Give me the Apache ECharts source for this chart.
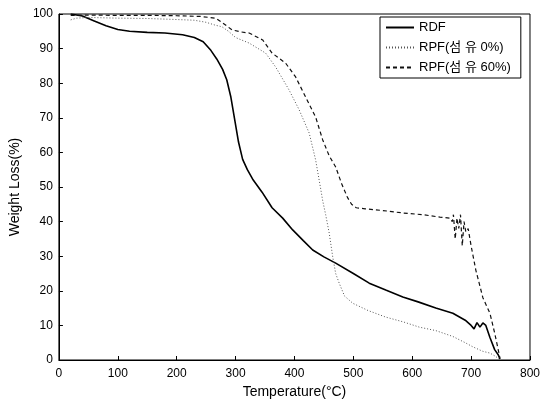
<!DOCTYPE html>
<html>
<head>
<meta charset="utf-8">
<script src="https://cdn.jsdelivr.net/npm/echarts@6/dist/echarts.min.js"></script>
<style>
  html, body { margin: 0; padding: 0; background: #fff; }
  #chart-box { width: 543px; height: 409px; }
</style>
</head>
<body>
<div id="chart-box"></div>
<script>
// 온도 (°C) / 무게 (%)
const rdfTemp = [20, 40, 60, 80, 100, 120, 150, 180, 210, 230, 245, 258, 268, 278, 285, 292, 298, 305, 312, 320, 330, 345, 362, 380, 397, 415, 431, 450, 470, 500, 527, 555, 584, 610, 640, 669, 690, 700, 705, 710, 715, 720, 725, 732, 740, 746, 749]
const rdfWeight = [100, 99.4, 98, 96.6, 95.5, 95, 94.7, 94.5, 94, 93.2, 92, 89.5, 87, 84, 81, 76, 70, 63, 58, 55, 52, 48.5, 44, 41, 37.6, 34.5, 31.8, 29.8, 28, 25, 22.2, 20.2, 18.2, 16.8, 15, 13.5, 11.5, 10, 9, 10.8, 9.5, 10.7, 10, 6.5, 3, 1.5, 0.3]

const rpf0Temp = [20, 30, 50, 100, 150, 200, 230, 250, 265, 277, 288, 300, 323, 351, 368, 391, 408, 425, 436, 444, 448, 453, 459, 465, 470, 476, 485, 499, 525, 555, 585, 612, 640, 669, 690, 703, 720, 732, 742, 748]
const rpf0Weight = [98.3, 98.8, 99, 98.8, 98.7, 98.4, 98.2, 97.6, 96.8, 96.3, 95, 93.2, 91.6, 88.7, 84.7, 78, 72.3, 65.6, 57.8, 50, 46, 42, 36.7, 29.8, 25, 22.2, 18.5, 16.4, 14.3, 12.4, 11, 9.5, 8.5, 6.8, 5, 3.8, 2.5, 2, 1, 0.2]

const rpf60Temp = [20, 50, 100, 150, 200, 240, 266, 275, 283, 294, 310, 323, 346, 362, 385, 402, 419, 436, 448, 459, 470, 480, 490, 497, 505, 520, 550, 584, 618, 647, 664, 668, 670, 673, 676, 679, 682, 685, 688, 691, 695, 700, 708, 720, 732, 740, 746, 749]
const rpf60Weight = [99.6, 99.7, 99.6, 99.6, 99.5, 99.3, 98.8, 97.8, 96.8, 95.4, 94.8, 94.5, 92.5, 88.7, 85.8, 81.8, 76, 70.2, 63.6, 59, 55.8, 51, 47, 45, 44, 43.7, 43.2, 42.5, 42, 41.3, 41, 40, 42, 35, 41, 38, 42, 33, 40, 37, 38, 33, 26, 18, 13.5, 7.8, 3, 0.5]

const seriesNames = ["RDF", "RPF(섬 유 0%)", "RPF(섬 유 60%)"]

function pairs(xs, ys) {
    return xs.map(function (x, i) { return [x, ys[i]] })
}

let chart = echarts.init(document.getElementById("chart-box"))
let font = "Liberation Sans, Arial, Noto Sans CJK KR"

let option = {
    animation: false,
    backgroundColor: "#fff",
    textStyle: { fontFamily: font },
    grid: {
        left: 57,
        right: 13,
        top: 14,
        bottom: 49,
        show: true,
        borderColor: "#000",
        borderWidth: 1
    },
    legend: {
        data: seriesNames,
        orient: "vertical",
        left: 380,
        top: 17,
        itemWidth: 28,
        itemHeight: 10,
        itemGap: 7,
        padding: [4, 10, 4, 5],
        borderColor: "#000",
        borderWidth: 1,
        backgroundColor: "#fff",
        itemStyle: { opacity: 0 },
        textStyle: { fontFamily: font, fontSize: 13, color: "#000" }
    },
    xAxis: {
        type: "value",
        min: 0,
        max: 800,
        interval: 100,
        name: "Temperature(°C)",
        nameLocation: "middle",
        nameGap: 24,
        nameTextStyle: { fontSize: 14, color: "#000" },
        axisLine: { lineStyle: { color: "#000" } },
        axisTick: { inside: true, length: 4, lineStyle: { color: "#000" } },
        axisLabel: { fontSize: 12, color: "#000", margin: 8 },
        splitLine: { show: false }
    },
    yAxis: {
        type: "value",
        min: 0,
        max: 100,
        interval: 10,
        name: "Weight Loss(%)",
        nameLocation: "middle",
        nameGap: 30,
        nameTextStyle: { fontSize: 14, color: "#000" },
        axisLine: { show: true, lineStyle: { color: "#000" } },
        axisTick: { show: true, inside: true, length: 4, lineStyle: { color: "#000" } },
        axisLabel: { fontSize: 12, color: "#000", margin: 6 },
        splitLine: { show: false }
    },
    series: [
        {
            name: seriesNames[0],
            type: "line",
            symbol: "none",
            data: pairs(rdfTemp, rdfWeight),
            itemStyle: { color: "#000" },
            lineStyle: { color: "#000", width: 1.6 }
        },
        {
            name: seriesNames[1],
            type: "line",
            symbol: "none",
            data: pairs(rpf0Temp, rpf0Weight),
            itemStyle: { color: "#555" },
            lineStyle: { color: "#555", width: 1, type: [1, 2] }
        },
        {
            name: seriesNames[2],
            type: "line",
            symbol: "none",
            data: pairs(rpf60Temp, rpf60Weight),
            itemStyle: { color: "#111" },
            lineStyle: { color: "#111", width: 1.2, type: [4, 3] }
        }
    ]
}
chart.setOption(option)
</script>
</body>
</html>
